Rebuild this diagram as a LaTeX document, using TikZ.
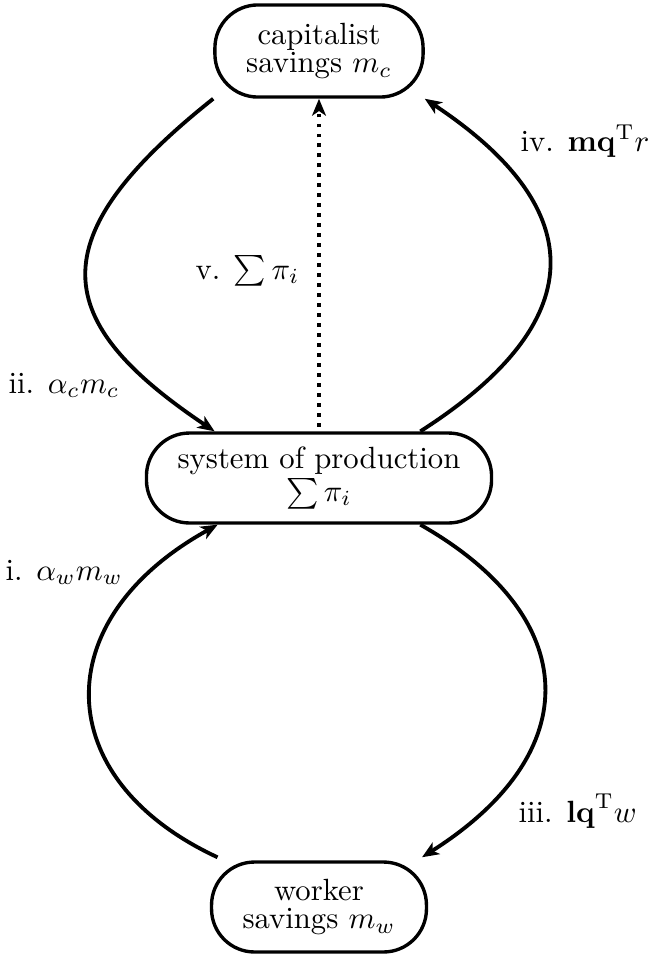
\documentclass[tikz,border=0pt]{standalone}
\usetikzlibrary{arrows.meta}
\begin{document}
\begin{tikzpicture}[x=0.3257pt,y=-0.3257pt,
  box/.style={draw,line width=1.1pt,rounded corners=14pt,align=center,
    font=\fontsize{10pt}{9.2pt}\selectfont,inner sep=0pt},
  flow/.style={line width=1.25pt,-{Stealth[length=5.5pt,width=4.5pt,inset=1.5pt]}},
  lbl/.style={anchor=base west,inner sep=0pt}]
\useasboundingbox (0,0) rectangle (648,957);
\node[box,minimum width=67.8pt,minimum height=30pt] (cap) at (319,51) {capitalist\\savings $m_c$};
\node[box,minimum width=112.4pt,minimum height=29.3pt] (sys) at (319,478) {system of production\\$\sum\pi_i$};
\node[box,minimum width=70pt,minimum height=29.3pt] (wrk) at (319,907) {worker\\savings $m_w$};
\coordinate (sysnw) at ([xshift=-34pt]sys.north);
\coordinate (sysne) at ([xshift=33pt]sys.north);
\coordinate (syssw) at ([xshift=-33pt]sys.south);
\coordinate (sysse) at ([xshift=33pt]sys.south);
\coordinate (wrknw) at ([xshift=2.5pt,yshift=1pt]wrk.north west);
\coordinate (wrkne) at ([xshift=-2pt,yshift=1pt]wrk.north east);
\draw[flow] (cap.south west) .. controls +(-176,140) and +(-164,-110) .. (sysnw);
\draw[flow] (sysne) .. controls +(169,-108) and +(169,112) .. (cap.south east);
\draw[flow,dotted] ([yshift=1.5pt]sys.north) -- (cap.south);
\draw[flow] (wrknw) .. controls +(-168,-78) and +(-172,95) .. (syssw);
\draw[flow] (sysse) .. controls +(162,92) and +(166,-105) .. (wrkne);
\node[lbl] (lii) at (8,393) {ii. $\alpha_c m_c$};
\node[lbl] (li) at (5,580) {i. $\alpha_w m_w$};
\node[lbl] (lv) at (195,279) {v. $\sum\pi_i$};
\node[lbl] (liii) at (518,822) {iii. $\mathbf{lq}^\mathrm{T} w$};
\node[lbl] (liv) at (520,151) {iv. $\mathbf{mq}^\mathrm{T} r$};
\end{tikzpicture}
\end{document}
